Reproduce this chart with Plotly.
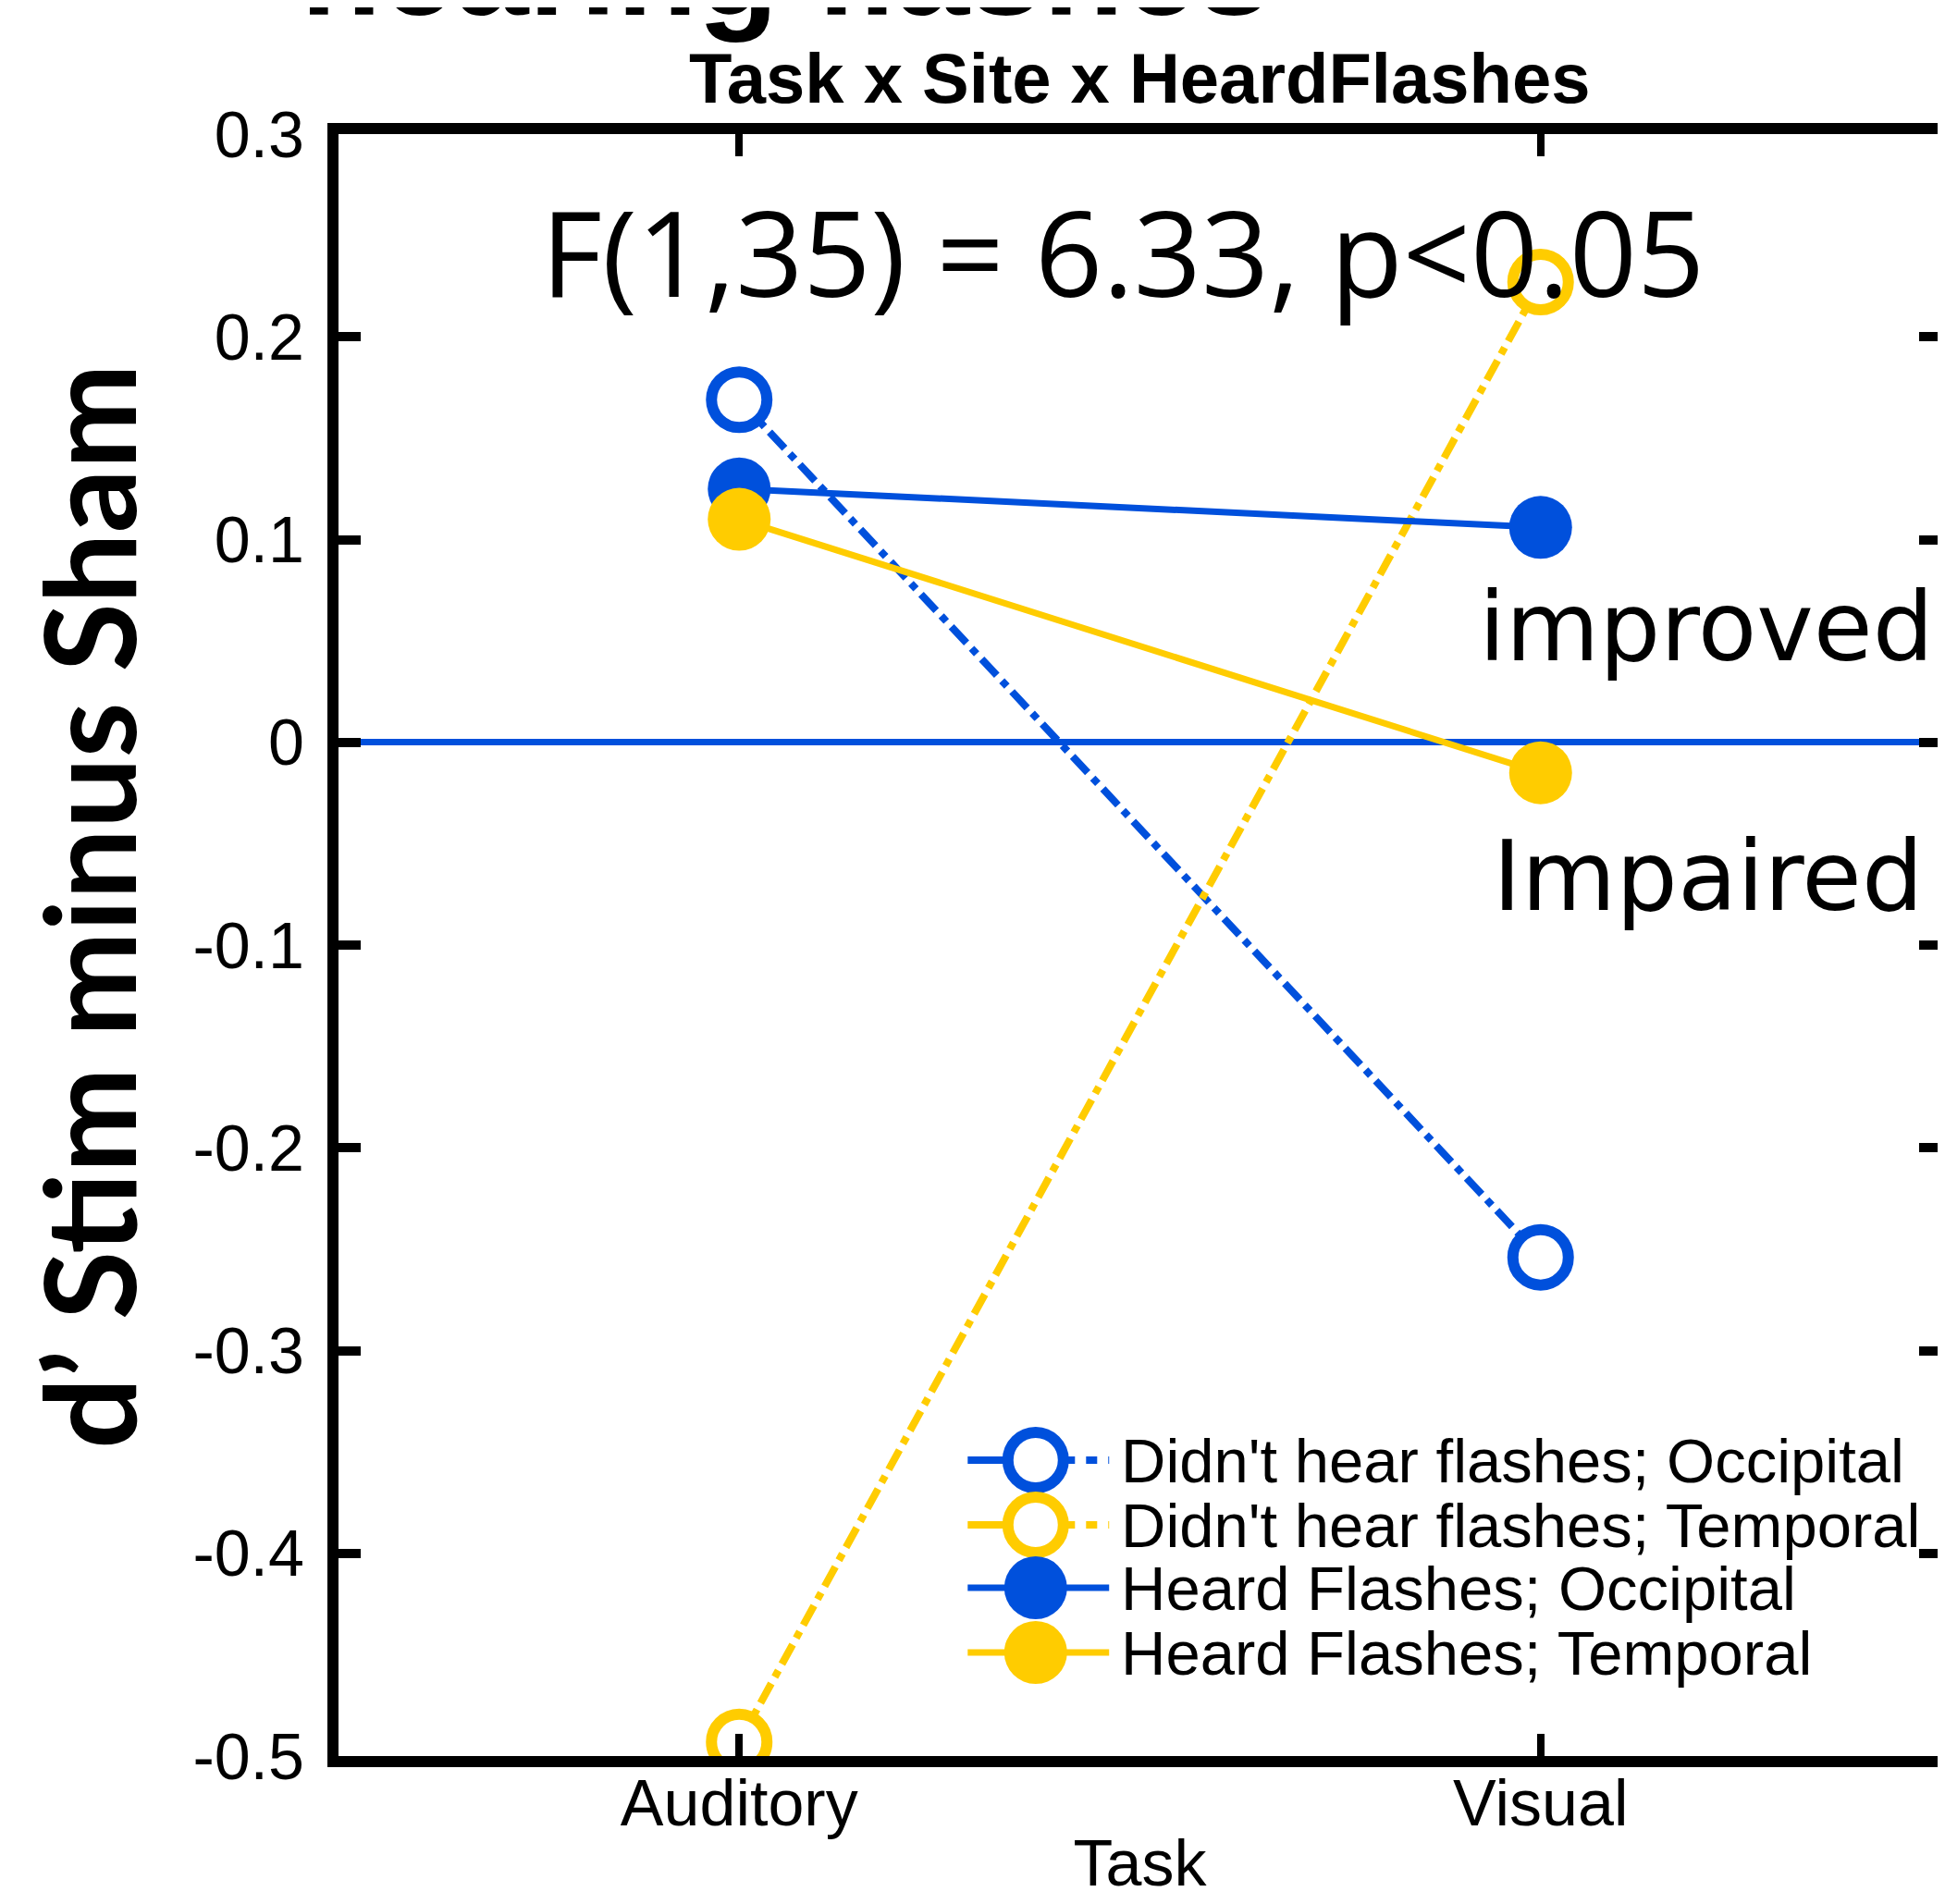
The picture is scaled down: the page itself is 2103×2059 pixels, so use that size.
import plotly.graph_objects as go

# ---------------- data ----------------
tasks = ["Auditory", "Visual"]
series_names = [
    "Didn't hear flashes; Occipital",
    "Didn't hear flashes; Temporal",
    "Heard Flashes; Occipital",
    "Heard Flashes; Temporal",
]
didnt_occipital = [0.169, -0.254]
didnt_temporal = [-0.493, 0.227]
heard_occipital = [0.125, 0.106]
heard_temporal = [0.110, -0.015]

y_tick_vals = [0.3, 0.2, 0.1, 0, -0.1, -0.2, -0.3, -0.4, -0.5]
y_tick_text = ["0.3", "0.2", "0.1", "0", "-0.1", "-0.2", "-0.3", "-0.4", "-0.5"]

# ---------------- styles ----------------
BLUE = "#0050DC"
YELLOW = "#FFCC00"
PAGE_W, PAGE_H = 2103, 2059
L, R, T, B = 358, 0, 137, 168
PW = PAGE_W - L - R
PH = PAGE_H - T - B


def px(x):
    return (x - L) / PW


def py(y):
    return 1 - (y - T) / PH


series = [
    (series_names[0], didnt_occipital, BLUE, True),
    (series_names[1], didnt_temporal, YELLOW, True),
    (series_names[2], heard_occipital, BLUE, False),
    (series_names[3], heard_temporal, YELLOW, False),
]

fig = go.Figure()
for name, vals, col, is_open in series:
    if is_open:
        marker = dict(symbol="circle", size=60, color="white",
                      line=dict(color=col, width=12))
        line = dict(color=col, width=8, dash="dashdot")
    else:
        marker = dict(symbol="circle", size=68, color=col, line=dict(width=0))
        line = dict(color=col, width=7)
    fig.add_trace(go.Scatter(x=tasks, y=vals, name=name, mode="lines+markers",
                             marker=marker, line=line, showlegend=False))

tick_font = dict(family="Liberation Sans, Arial, sans-serif", size=70, color="black")

annotations = [
    dict(text="<b>hearing flashes</b>", x=px(845), y=py(-42), xref="paper", yref="paper",
         xanchor="center", yanchor="middle", showarrow=False,
         font=dict(family="Liberation Sans, Arial", size=143, color="black")),
    dict(text="<b>Task x Site x HeardFlashes</b>", x=px(1230), y=py(76), xref="paper", yref="paper",
         xanchor="center", yanchor="middle", showarrow=False,
         font=dict(family="Liberation Sans, Arial", size=76, color="black")),
    dict(text="F(1,35) = 6.33, p<0.05", x=px(577), y=py(263), xref="paper", yref="paper",
         xanchor="left", yanchor="middle", showarrow=False,
         font=dict(family="Open Sans", size=128, color="black")),
    dict(text="improved", x=px(1598), y=py(670), xref="paper", yref="paper",
         xanchor="left", yanchor="middle", showarrow=False,
         font=dict(family="DejaVu Sans", size=104, color="black")),
    dict(text="Impaired", x=px(1613), y=py(940), xref="paper", yref="paper",
         xanchor="left", yanchor="middle", showarrow=False,
         font=dict(family="DejaVu Sans", size=105, color="black")),
    dict(text="<b>d\u2019 Stim minus Sham</b>", x=px(84), y=py(972), xref="paper", yref="paper",
         xanchor="center", yanchor="middle", showarrow=False, textangle=-90,
         font=dict(family="Lato", size=136, color="black")),
]

# custom legend (large glyphs like the original)
shapes = []
legend_rows = [1571, 1641, 1709, 1779]
for (name, vals, col, is_open), ry in zip(series, legend_rows):
    shapes.append(dict(type="line", xref="paper", yref="paper",
                       x0=px(1043), x1=px(1197), y0=py(ry), y1=py(ry),
                       line=dict(color=col, width=8 if is_open else 7,
                                 dash="40px,12px,12px,12px" if is_open else "solid")))
    if is_open:
        shapes.append(dict(type="circle", xref="paper", yref="paper",
                           xsizemode="pixel", ysizemode="pixel",
                           xanchor=px(1117), yanchor=py(ry),
                           x0=-30, x1=30, y0=-30, y1=30,
                           fillcolor="white", line=dict(color=col, width=12)))
    else:
        shapes.append(dict(type="circle", xref="paper", yref="paper",
                           xsizemode="pixel", ysizemode="pixel",
                           xanchor=px(1117), yanchor=py(ry),
                           x0=-34, x1=34, y0=-34, y1=34,
                           fillcolor=col, line=dict(width=0)))
    annotations.append(dict(text=name, x=px(1208), y=py(ry), xref="paper", yref="paper",
                            xanchor="left", yanchor="middle", showarrow=False,
                            font=dict(family="Liberation Sans, Arial", size=67, color="black")))

fig.update_layout(
    width=PAGE_W, height=PAGE_H,
    margin=dict(l=L, r=R, t=T, b=B, pad=0),
    paper_bgcolor="white", plot_bgcolor="white",
    showlegend=False,
    annotations=annotations,
    shapes=shapes,
    xaxis=dict(
        type="category", categoryorder="array", categoryarray=tasks,
        range=[-0.5, 1.5],
        showline=True, linecolor="black", linewidth=12, mirror="ticks",
        ticks="inside", ticklen=24, tickwidth=8, tickcolor="black",
        showgrid=False, zeroline=False,
        tickfont=tick_font, ticklabelstandoff=-21,
        title=dict(text="Task", font=tick_font, standoff=7),
    ),
    yaxis=dict(
        range=[-0.5, 0.3],
        tickvals=y_tick_vals, ticktext=y_tick_text,
        showline=True, linecolor="black", linewidth=12, mirror="ticks",
        ticks="inside", ticklen=24, tickwidth=10, tickcolor="black",
        showgrid=False,
        zeroline=True, zerolinecolor=BLUE, zerolinewidth=7,
        tickfont=tick_font, ticklabelstandoff=11,
    ),
)

fig.write_html("out.html")
